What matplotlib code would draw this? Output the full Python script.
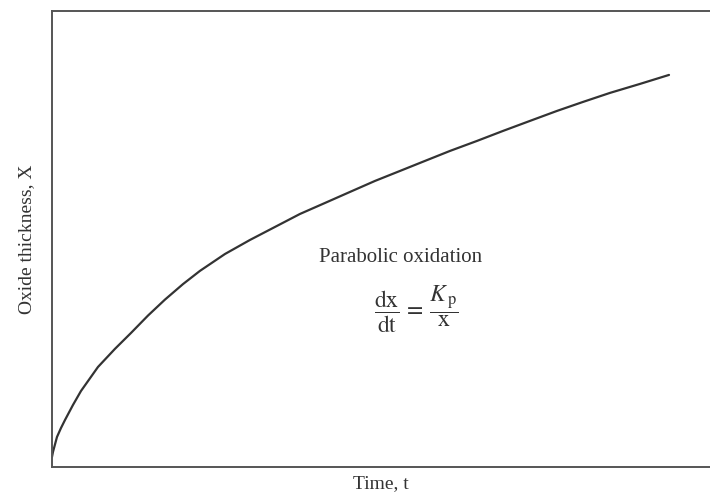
import numpy as np
import matplotlib
matplotlib.use("Agg")
import matplotlib.pyplot as plt

plt.rcParams['font.family'] = ['Liberation Serif', 'DejaVu Serif']
plt.rcParams['mathtext.fontset'] = 'stix'

# curve (time, oxide thickness), arbitrary units 0-100
tiempo = [0.0, 0.15, 0.76, 1.37, 1.98, 3.19, 4.41, 6.99, 9.57, 12.01,
          14.59, 17.17, 19.91, 22.49, 26.29, 30.09, 33.89, 37.69, 41.49,
          45.29, 49.09, 52.89, 56.69, 60.49, 64.59, 68.54, 72.64, 76.75,
          80.70, 84.80, 89.36, 93.77]
espesor = [2.19, 3.29, 6.58, 8.55, 10.31, 13.60, 16.67, 21.93, 25.90, 29.39,
           33.20, 36.70, 40.10, 43.00, 46.70, 49.78, 52.63, 55.48, 57.89,
           60.31, 62.72, 64.91, 67.11, 69.30, 71.49, 73.68, 75.88, 78.07,
           80.04, 82.02, 83.99, 85.96]

fig = plt.figure(figsize=(7.1, 5.04), dpi=100)
ax = fig.add_axes([0.0732, 0.0734, 0.9268, 0.905])

ax.plot(tiempo, espesor, color='#333333', lw=1.6, solid_capstyle='round',
        solid_joinstyle='round')

ax.set_xlim(0, 100)
ax.set_ylim(0, 100)
ax.set_xticks([])
ax.set_yticks([])
for s in ['left', 'bottom', 'top']:
    ax.spines[s].set_color('#555555')
    ax.spines[s].set_linewidth(1.4)
ax.spines['right'].set_visible(False)

ax.set_xlabel('Time, t', fontsize=14, color='#333333', labelpad=6)
ax.set_ylabel('Oxide thickness, X', fontsize=14, color='#333333', labelpad=12)

ax.text(52.9, 46.0, 'Parabolic oxidation', fontsize=15, color='#333333',
        ha='center', va='center')
ax.text(55.3, 34.6, r'$\dfrac{\mathrm{dx}}{\mathrm{dt}}\,=\,\dfrac{K_{\,\mathrm{p}}}{\mathrm{x}}$',
        fontsize=17, color='#333333', ha='center', va='center')

fig.savefig('out.png', dpi=100)
